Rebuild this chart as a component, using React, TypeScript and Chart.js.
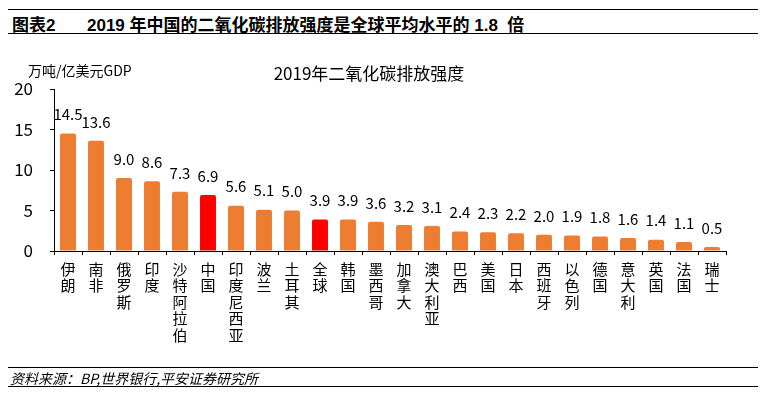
import React, { useEffect, useRef } from "react";
import { Chart, registerables } from "chart.js";
Chart.register(...registerables);

const countries = [
  "伊朗", "南非", "俄罗斯", "印度", "沙特阿拉伯", "中国", "印度尼西亚", "波兰", "土耳其",
  "全球", "韩国", "墨西哥", "加拿大", "澳大利亚", "巴西", "美国", "日本", "西班牙",
  "以色列", "德国", "意大利", "英国", "法国", "瑞士",
];
const values = [
  14.5, 13.6, 9.0, 8.6, 7.3, 6.9, 5.6, 5.1, 5.0, 3.9, 3.9, 3.6, 3.2, 3.1, 2.4, 2.3,
  2.2, 2.0, 1.9, 1.8, 1.6, 1.4, 1.1, 0.5,
];
const highlighted = ["中国", "全球"];
const yTicks = [0, 5, 10, 15, 20];

const headerLabel = "图表2";
const headerTitle = "2019 年中国的二氧化碳排放强度是全球平均水平的 1.8  倍";
const chartTitle = "2019年二氧化碳排放强度";
const unitLabel = "万吨/亿美元GDP";
const sourceText = "资料来源：BP,世界银行,平安证券研究所";

const ORANGE = "#ED7D31";
const RED = "#FF0000";
const FONT = "'Noto Sans CJK SC', 'Noto Sans', sans-serif";
const HEAD_FONT = "'Liberation Sans', 'Noto Sans CJK SC', sans-serif";

const valueLabels = {
  id: "valueLabels",
  afterDatasetsDraw(chart: any) {
    const ctx = chart.ctx;
    const meta = chart.getDatasetMeta(0);
    ctx.save();
    ctx.font = `15px ${FONT}`;
    ctx.fillStyle = "#000";
    ctx.textAlign = "center";
    ctx.textBaseline = "middle";
    meta.data.forEach((bar: any, i: number) => {
      ctx.fillText(values[i].toFixed(1), bar.x, bar.y - 19);
    });
    ctx.restore();
  },
};

export default function App() {
  const ref = useRef<HTMLCanvasElement>(null);
  useEffect(() => {
    if (!ref.current) return;
    const chart = new Chart(ref.current, {
      type: "bar",
      data: {
        labels: countries.map((c) => c.split("")),
        datasets: [
          {
            data: values,
            backgroundColor: countries.map((c) => (highlighted.includes(c) ? RED : ORANGE)),
            barPercentage: 0.57,
            categoryPercentage: 1,
            borderRadius: 2,
          },
        ],
      },
      options: {
        responsive: false,
        animation: false,
        layout: { padding: { top: 89, right: 40, left: 0, bottom: 0 } },
        plugins: { legend: { display: false }, tooltip: { enabled: false }, title: { display: false } },
        scales: {
          x: {
            grid: { display: true, drawOnChartArea: false, drawTicks: true, tickLength: 4, color: "#000", offset: true },
            border: { display: true, color: "#000", width: 1 },
            ticks: {
              font: { size: 15, family: FONT, lineHeight: 1.1 },
              color: "#000",
              padding: 6,
              maxRotation: 0,
              minRotation: 0,
              autoSkip: false,
            },
            afterFit: (s: any) => {
              s.height = 145;
            },
          },
          y: {
            min: yTicks[0],
            max: yTicks[yTicks.length - 1],
            afterBuildTicks: (s: any) => {
              s.ticks = yTicks.map((v) => ({ value: v }));
            },
            grid: { display: true, drawOnChartArea: false, drawTicks: true, tickLength: 4, color: "#000" },
            border: { display: true, color: "#000", width: 1 },
            ticks: { font: { size: 17, family: FONT }, color: "#000", padding: 17 },
            afterFit: (s: any) => {
              s.width = 54;
            },
          },
        },
      },
      plugins: [valueLabels],
    });
    return () => chart.destroy();
  }, []);

  return (
    <div style={{ position: "absolute", left: 0, top: 0, width: 766, height: 396, background: "#fff", overflow: "hidden" }}>
      <div
        style={{
          position: "absolute", left: 8, top: 9, width: 750, height: 23,
          borderTop: "1.5px solid #000", borderBottom: "1.5px solid #000",
        }}
      />
      <div style={{ position: "absolute", left: 12, top: 11, height: 22, lineHeight: "22px", font: `bold 17px ${HEAD_FONT}`, color: "#000", whiteSpace: "pre" }}>
        {headerLabel}
      </div>
      <div style={{ position: "absolute", left: 87, top: 11, height: 22, lineHeight: "22px", font: `bold 17px ${HEAD_FONT}`, color: "#000", whiteSpace: "pre" }}>
        {headerTitle}
      </div>
      <canvas ref={ref} width={766} height={396} style={{ position: "absolute", left: 0, top: 0, width: 766, height: 396 }} />
      <div style={{ position: "absolute", left: 28, top: 60, lineHeight: "20px", font: `14px ${FONT}`, color: "#000", whiteSpace: "pre" }}>
        {unitLabel}
      </div>
      <div style={{ position: "absolute", left: 269, width: 200, textAlign: "center", top: 60, lineHeight: "22px", font: `17px ${FONT}`, color: "#000", whiteSpace: "pre" }}>
        {chartTitle}
      </div>
      <div
        style={{
          position: "absolute", left: 8, top: 367, width: 750, height: 18,
          borderTop: "1.5px solid #000", borderBottom: "1.5px solid #000",
        }}
      />
      <div style={{ position: "absolute", left: 10, top: 368, lineHeight: "18px", font: `italic 14px ${FONT}`, color: "#000", whiteSpace: "pre" }}>
        {sourceText}
      </div>
    </div>
  );
}
